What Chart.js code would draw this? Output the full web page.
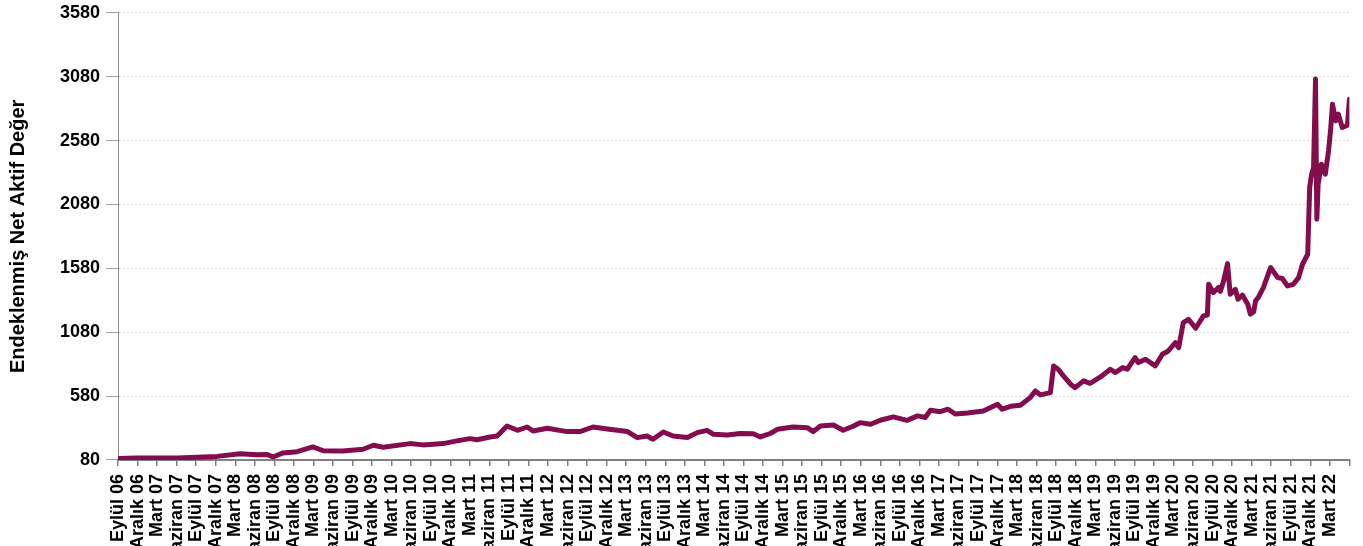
<!DOCTYPE html>
<html>
<head>
<meta charset="utf-8">
<script src="https://cdn.jsdelivr.net/npm/chart.js@4"></script>
<style>
  html, body { margin: 0; padding: 0; background: #fff; overflow: hidden; }
  #wrap { position: absolute; left: 0; top: -4px; width: 1379px; height: 583px; }
</style>
</head>
<body>
<div id="wrap"><canvas id="nav"></canvas></div>
<script>
// quarter labels, one per 3 months starting Eylül 06 (last tick unlabeled)
const quarterLabels = [
  "Eylül 06", "Aralık 06",
  "Mart 07", "Haziran 07", "Eylül 07", "Aralık 07",
  "Mart 08", "Haziran 08", "Eylül 08", "Aralık 08",
  "Mart 09", "Haziran 09", "Eylül 09", "Aralık 09",
  "Mart 10", "Haziran 10", "Eylül 10", "Aralık 10",
  "Mart 11", "Haziran 11", "Eylül 11", "Aralık 11",
  "Mart 12", "Haziran 12", "Eylül 12", "Aralık 12",
  "Mart 13", "Haziran 13", "Eylül 13", "Aralık 13",
  "Mart 14", "Haziran 14", "Eylül 14", "Aralık 14",
  "Mart 15", "Haziran 15", "Eylül 15", "Aralık 15",
  "Mart 16", "Haziran 16", "Eylül 16", "Aralık 16",
  "Mart 17", "Haziran 17", "Eylül 17", "Aralık 17",
  "Mart 18", "Haziran 18", "Eylül 18", "Aralık 18",
  "Mart 19", "Haziran 19", "Eylül 19", "Aralık 19",
  "Mart 20", "Haziran 20", "Eylül 20", "Aralık 20",
  "Mart 21", "Haziran 21", "Eylül 21", "Aralık 21",
  "Mart 22", ""
];

// months elapsed since Eylül 06
const months = [
  0, 2.9, 9.1, 15.2, 18.7, 21.3, 22.9, 23.8, 25.3, 27.5,
  29.9, 31.5, 34.5, 37.6, 39.2, 40.7, 44.8, 46.8, 49.9, 52.0,
  54.0, 55.1, 57.1, 58.2, 59.7, 61.3, 62.8, 63.7, 65.9, 68.9,
  70.9, 72.9, 75.1, 78.2, 79.7, 81.2, 82.1, 83.7, 85.2, 87.4,
  88.9, 90.4, 91.4, 93.5, 95.5, 97.5, 98.6, 100.1, 101.2, 103.6,
  105.8, 106.7, 107.8, 109.8, 111.3, 112.9, 113.9, 115.5, 117.0, 119.0,
  121.1, 122.7, 123.9, 124.7, 126.2, 127.4, 128.5, 130.4, 132.8, 135.0,
  135.7, 137.0, 138.5,
  140.0, 140.8, 141.6, 143.1, 143.6, 144.3, 145.1, 146.2, 146.9, 148.2,
  149.2, 150.8, 152.3, 153.1, 154.2, 154.9, 156.1, 156.6, 157.7, 159.2,
  160.3, 161.2, 162.3, 162.8, 163.5, 164.3, 165.4, 166.6, 167.2, 167.4,
  168.1, 168.9, 169.2, 169.7, 170.3, 170.7, 171.5, 171.9, 172.6, 173.4,
  173.8, 174.3, 174.6, 175.0, 175.8, 176.9, 178.0, 178.7, 179.5, 180.4,
  181.2, 181.8, 182.6, 182.9, 183.2, 183.5, 183.8, 184.0, 184.2, 184.7,
  185.3, 185.8, 186.1, 186.4, 186.9, 187.3, 187.9, 188.7, 189.0
];

// indexed net asset value
const navValues = [
  92, 96, 95, 108, 128, 120, 123, 103, 135, 145,
  182, 152, 150, 164, 195, 180, 208, 198, 208, 229,
  247, 238, 260, 268, 346, 312, 338, 307, 328, 302,
  302, 338, 322, 302, 255, 267, 242, 299, 267, 255,
  294, 312, 281, 275, 287, 285, 260, 287, 320, 338,
  333, 302, 346, 354, 312, 346, 372, 359, 391, 417,
  390, 425, 412, 469, 458, 477, 440, 448, 464, 516,
  477, 500, 508,
  568, 620, 589, 607, 816, 790, 738, 673, 646, 699,
  680, 730, 790, 764, 803, 790, 881, 842, 868, 816,
  907, 933, 998, 959, 1155, 1181, 1111, 1208, 1215, 1456,
  1390, 1430, 1400, 1482, 1617, 1377, 1415, 1338, 1370, 1299,
  1221, 1240, 1325, 1351, 1429, 1586, 1507, 1500, 1442, 1455,
  1507, 1612, 1690, 2212, 2317, 2368, 3061, 1965, 2239, 2395,
  2317, 2500, 2656, 2865, 2734, 2787, 2682, 2700, 2904
];

const yTicks = [80, 580, 1080, 1580, 2080, 2580, 3080, 3580];

const points = months.map((m, i) => ({ x: m, y: navValues[i] }));
const FONT = "'Liberation Sans', Arial, sans-serif";

new Chart(document.getElementById("nav"), {
  type: "line",
  data: {
    datasets: [{
      data: points,
      borderColor: "#820c4e",
      borderWidth: 5,
      borderJoinStyle: "round",
      borderCapStyle: "round",
      pointRadius: 0,
      tension: 0,
      fill: false
    }]
  },
  options: {
    responsive: true,
    maintainAspectRatio: false,
    animation: false,
    layout: { padding: { top: 3, right: 6, bottom: 7, left: 6 } },
    plugins: { legend: { display: false }, tooltip: { enabled: false } },
    scales: {
      x: {
        type: "linear",
        min: 0,
        max: 189,
        grid: { drawOnChartArea: false, drawTicks: true, tickLength: 6, color: "#808080", lineWidth: 1.5 },
        border: { color: "#808080", width: 2 },
        ticks: {
          stepSize: 3,
          autoSkip: false,
          maxRotation: 90,
          minRotation: 90,
          padding: 8,
          color: "#000",
          font: { family: FONT, size: 18, weight: "bold" },
          callback: v => quarterLabels[Math.round(v / 3)] ?? ""
        }
      },
      y: {
        min: 80,
        max: 3580,
        afterBuildTicks: axis => { axis.ticks = yTicks.map(v => ({ value: v })); },
        grid: { color: "#d9d9d9", tickLength: 12, tickColor: "#a0a0a0" },
        border: { color: "#909090", width: 1, dash: [2, 2] },
        ticks: {
          color: "#000",
          padding: 6,
          font: { family: FONT, size: 18, weight: "bold" },
          callback: v => String(v)
        },
        title: {
          display: true,
          text: "Endeklenmiş Net Aktif Değer",
          color: "#000",
          font: { family: FONT, size: 20, weight: "bold" },
          padding: { top: 0, bottom: 24 }
        }
      }
    }
  }
});
</script>
</body>
</html>
